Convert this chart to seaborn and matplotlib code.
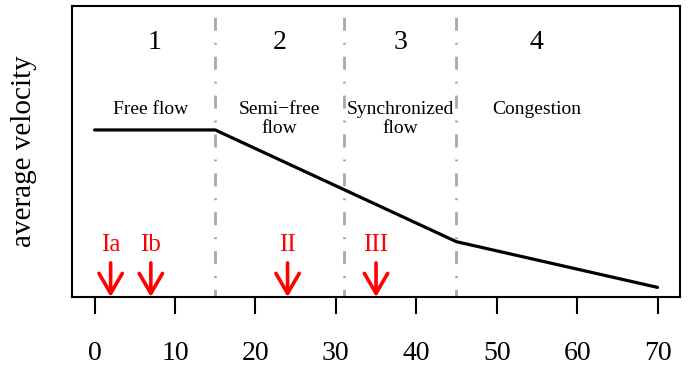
import matplotlib
matplotlib.use("Agg")
import matplotlib.pyplot as plt
import seaborn as sns
import pandas as pd

# speed-density phases
x_points = [0, 15, 45, 70]
velocity = [57.4, 57.4, 19.0, 3.3]

phase_bounds = [15, 31, 45]
phase_numbers = ["1", "2", "3", "4"]
phase_x = [7.5, 23, 38, 55]
phase_names = ["Free flow", "Semi\u2212free\nflow", "Synchronized\nflow", "Congestion"]
name_x = [7, 23, 38, 55]

marker_labels = ["Ia", "Ib", "II", "III"]
marker_x = [2, 7, 24, 35]

x_ticks = [0, 10, 20, 30, 40, 50, 60, 70]

sns.set_theme(style="ticks")
plt.rcParams["font.family"] = ["Liberation Serif", "DejaVu Serif"]
plt.rcParams["text.color"] = "black"
plt.rcParams["axes.labelcolor"] = "black"
plt.rcParams["xtick.labelcolor"] = "black"

fig, ax = plt.subplots(figsize=(6.88, 3.73), dpi=100)
fig.subplots_adjust(left=0.1047, right=0.9884, bottom=0.2038, top=0.984)

df = pd.DataFrame({"x": x_points, "v": velocity})
sns.lineplot(data=df, x="x", y="v", color="black", linewidth=2.3, ax=ax)

# phase boundaries
for b in phase_bounds:
    ax.axvline(b, color="#a8a8a8", linewidth=2.0,
               linestyle=(2.0, (4.7, 4.3, 0.7, 4.3)))

for xp, t in zip(phase_x, phase_numbers):
    ax.text(xp, 87.3, t, ha="center", va="center", fontsize=20)

for xp, t in zip(name_x, phase_names):
    ax.text(xp, 67.5, t, ha="center", va="top", fontsize=14, linespacing=1.2)

# measurement points
for xp, t in zip(marker_x, marker_labels):
    ax.annotate("", xy=(xp, 0), xytext=(xp, 11.7),
                arrowprops=dict(arrowstyle="->,head_length=1.2,head_width=0.7",
                                color="red", lw=2.6, shrinkA=0, shrinkB=0))
    ax.text(xp, 18.0, t, ha="center", va="center", fontsize=18, color="red")

ax.set_xlim(-2.8, 72.8)
ax.set_ylim(0, 100)
ax.set_xticks(x_ticks)
ax.set_xticklabels([str(t) for t in x_ticks])
ax.set_yticks([])
ax.tick_params(axis="x", length=12, width=1.5, pad=20, labelsize=20, color="black")
for s in ax.spines.values():
    s.set_linewidth(1.5)
    s.set_color("black")

ax.set_xlabel("")
ax.set_ylabel("average velocity", fontsize=21)
ax.yaxis.set_label_coords(-0.058, 0.5)

fig.savefig("out.png", dpi=100)
